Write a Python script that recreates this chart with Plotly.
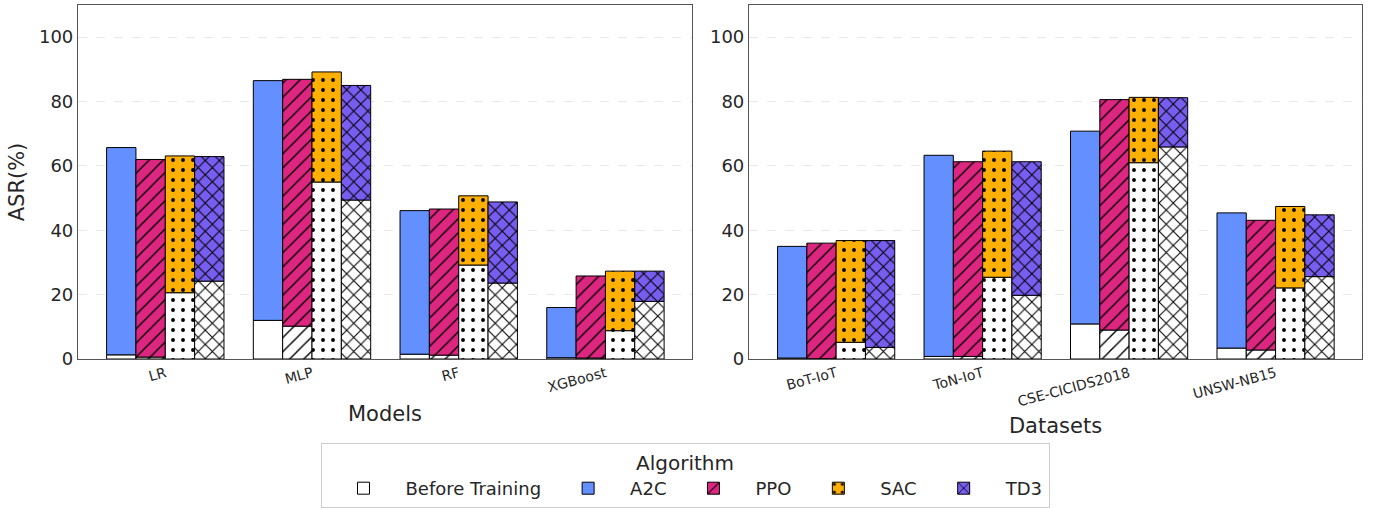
import plotly.graph_objects as go

# ---------------- data ----------------
models = ["LR", "MLP", "RF", "XGBoost"]
datasets = ["BoT-IoT", "ToN-IoT", "CSE-CICIDS2018", "UNSW-NB15"]
algorithms = ["A2C", "PPO", "SAC", "TD3"]

# ASR (%) after training, per algorithm, for each model
models_after_a2c = [65.7, 86.5, 46.1, 16.0]
models_after_ppo = [62.0, 86.9, 46.6, 25.8]
models_after_sac = [63.1, 89.2, 50.7, 27.3]
models_after_td3 = [62.9, 85.0, 48.8, 27.3]
# ASR (%) before training
models_before_a2c = [1.3, 12.0, 1.5, 0.4]
models_before_ppo = [0.6, 10.2, 1.2, 0.3]
models_before_sac = [20.6, 55.0, 29.2, 8.8]
models_before_td3 = [24.2, 49.4, 23.6, 17.9]

# ASR (%) after training, per algorithm, for each dataset
datasets_after_a2c = [35.0, 63.3, 70.8, 45.4]
datasets_after_ppo = [36.0, 61.3, 80.6, 43.1]
datasets_after_sac = [36.8, 64.6, 81.3, 47.4]
datasets_after_td3 = [36.8, 61.3, 81.2, 44.8]
# ASR (%) before training
datasets_before_a2c = [0.3, 0.8, 10.9, 3.4]
datasets_before_ppo = [0.1, 0.8, 9.0, 2.8]
datasets_before_sac = [5.2, 25.4, 61.0, 22.1]
datasets_before_td3 = [3.6, 19.8, 65.9, 25.6]

y_ticks = [0, 20, 40, 60, 80, 100]

# ---------------- styles ----------------
colors = {"A2C": "#648FFF", "PPO": "#DC267F", "SAC": "#FFB000", "TD3": "#785EF0"}
shapes = {"A2C": "", "PPO": "/", "SAC": ".", "TD3": "x"}
psize = {"A2C": 8, "PPO": 10, "SAC": 10, "TD3": 10}
psolid = {"A2C": 0.3, "PPO": 0.14, "SAC": 0.12, "TD3": 0.2}

panels = [
    ("x", "y", models,
     [models_before_a2c, models_before_ppo, models_before_sac, models_before_td3],
     [models_after_a2c, models_after_ppo, models_after_sac, models_after_td3]),
    ("x2", "y2", datasets,
     [datasets_before_a2c, datasets_before_ppo, datasets_before_sac, datasets_before_td3],
     [datasets_after_a2c, datasets_after_ppo, datasets_after_sac, datasets_after_td3]),
]

fig = go.Figure()
line = dict(color="black", width=1)

for pi, (xa, ya, cats, befores, afters) in enumerate(panels):
    for ai, alg in enumerate(algorithms):
        before = befores[ai]
        after = afters[ai]
        fig.add_trace(go.Bar(
            x=cats, y=before, xaxis=xa, yaxis=ya,
            offsetgroup=alg, name="Before Training", legendgroup="before",
            showlegend=(pi == 0 and ai == 0), legendrank=1,
            marker=dict(color="white", line=line,
                        pattern=dict(shape=shapes[alg], fgcolor="black", bgcolor="white",
                                     fgopacity=1, size=psize[alg], solidity=psolid[alg],
                                     fillmode="overlay")),
            hoverinfo="skip",
        ))
        fig.add_trace(go.Bar(
            x=cats, y=[a - b for a, b in zip(after, before)], base=before,
            xaxis=xa, yaxis=ya,
            offsetgroup=alg, name=alg, legendgroup=alg,
            showlegend=(pi == 0), legendrank=2 + ai,
            marker=dict(color=colors[alg], line=line,
                        pattern=dict(shape=shapes[alg], fgcolor="black", bgcolor=colors[alg],
                                     fgopacity=1, size=psize[alg], solidity=psolid[alg],
                                     fillmode="overlay")),
        ))

font_family = "DejaVu Sans, Verdana, sans-serif"
axis_common = dict(showline=True, linecolor="#555555", linewidth=1.2, mirror=True,
                   ticks="", zeroline=False, automargin=False)
yaxis_common = dict(axis_common, range=[0, 110], tickvals=y_ticks,
                    showgrid=True, gridcolor="#e8e8e8", griddash="dash", gridwidth=0.8,
                    tickfont=dict(size=18, color="#262626"))
xaxis_common = dict(axis_common, range=[-0.595, 3.59], showgrid=False, tickangle=-15,
                    tickfont=dict(size=14, color="#262626"))

fig.update_layout(
    width=1374, height=508,
    margin=dict(l=0, r=0, t=0, b=0, autoexpand=False),
    paper_bgcolor="white", plot_bgcolor="white",
    font=dict(family=font_family, color="#262626"),
    barmode="group", bargap=0.2, bargroupgap=0,
    xaxis=dict(xaxis_common, domain=[78 / 1374, 692 / 1374], anchor="y",
               title=dict(text="Models", font=dict(size=21), standoff=12)),
    yaxis=dict(yaxis_common, domain=[1 - 359 / 508, 1 - 5 / 508], anchor="x",
               title=dict(text="ASR(%)", font=dict(size=21), standoff=8)),
    xaxis2=dict(xaxis_common, domain=[749 / 1374, 1362 / 1374], anchor="y2",
                title=dict(text="Datasets", font=dict(size=21), standoff=9)),
    yaxis2=dict(yaxis_common, domain=[1 - 359 / 508, 1 - 5 / 508], anchor="x2"),
    legend=dict(
        orientation="h", x=685 / 1374, xanchor="center", y=0, yanchor="bottom",
        bordercolor="#cccccc", borderwidth=1, bgcolor="white",
        font=dict(size=18), itemwidth=74,
        title=dict(text="Algorithm", side="top center", font=dict(size=20)),
        traceorder="normal",
    ),
    showlegend=True,
)

fig.write_html("out.html")
